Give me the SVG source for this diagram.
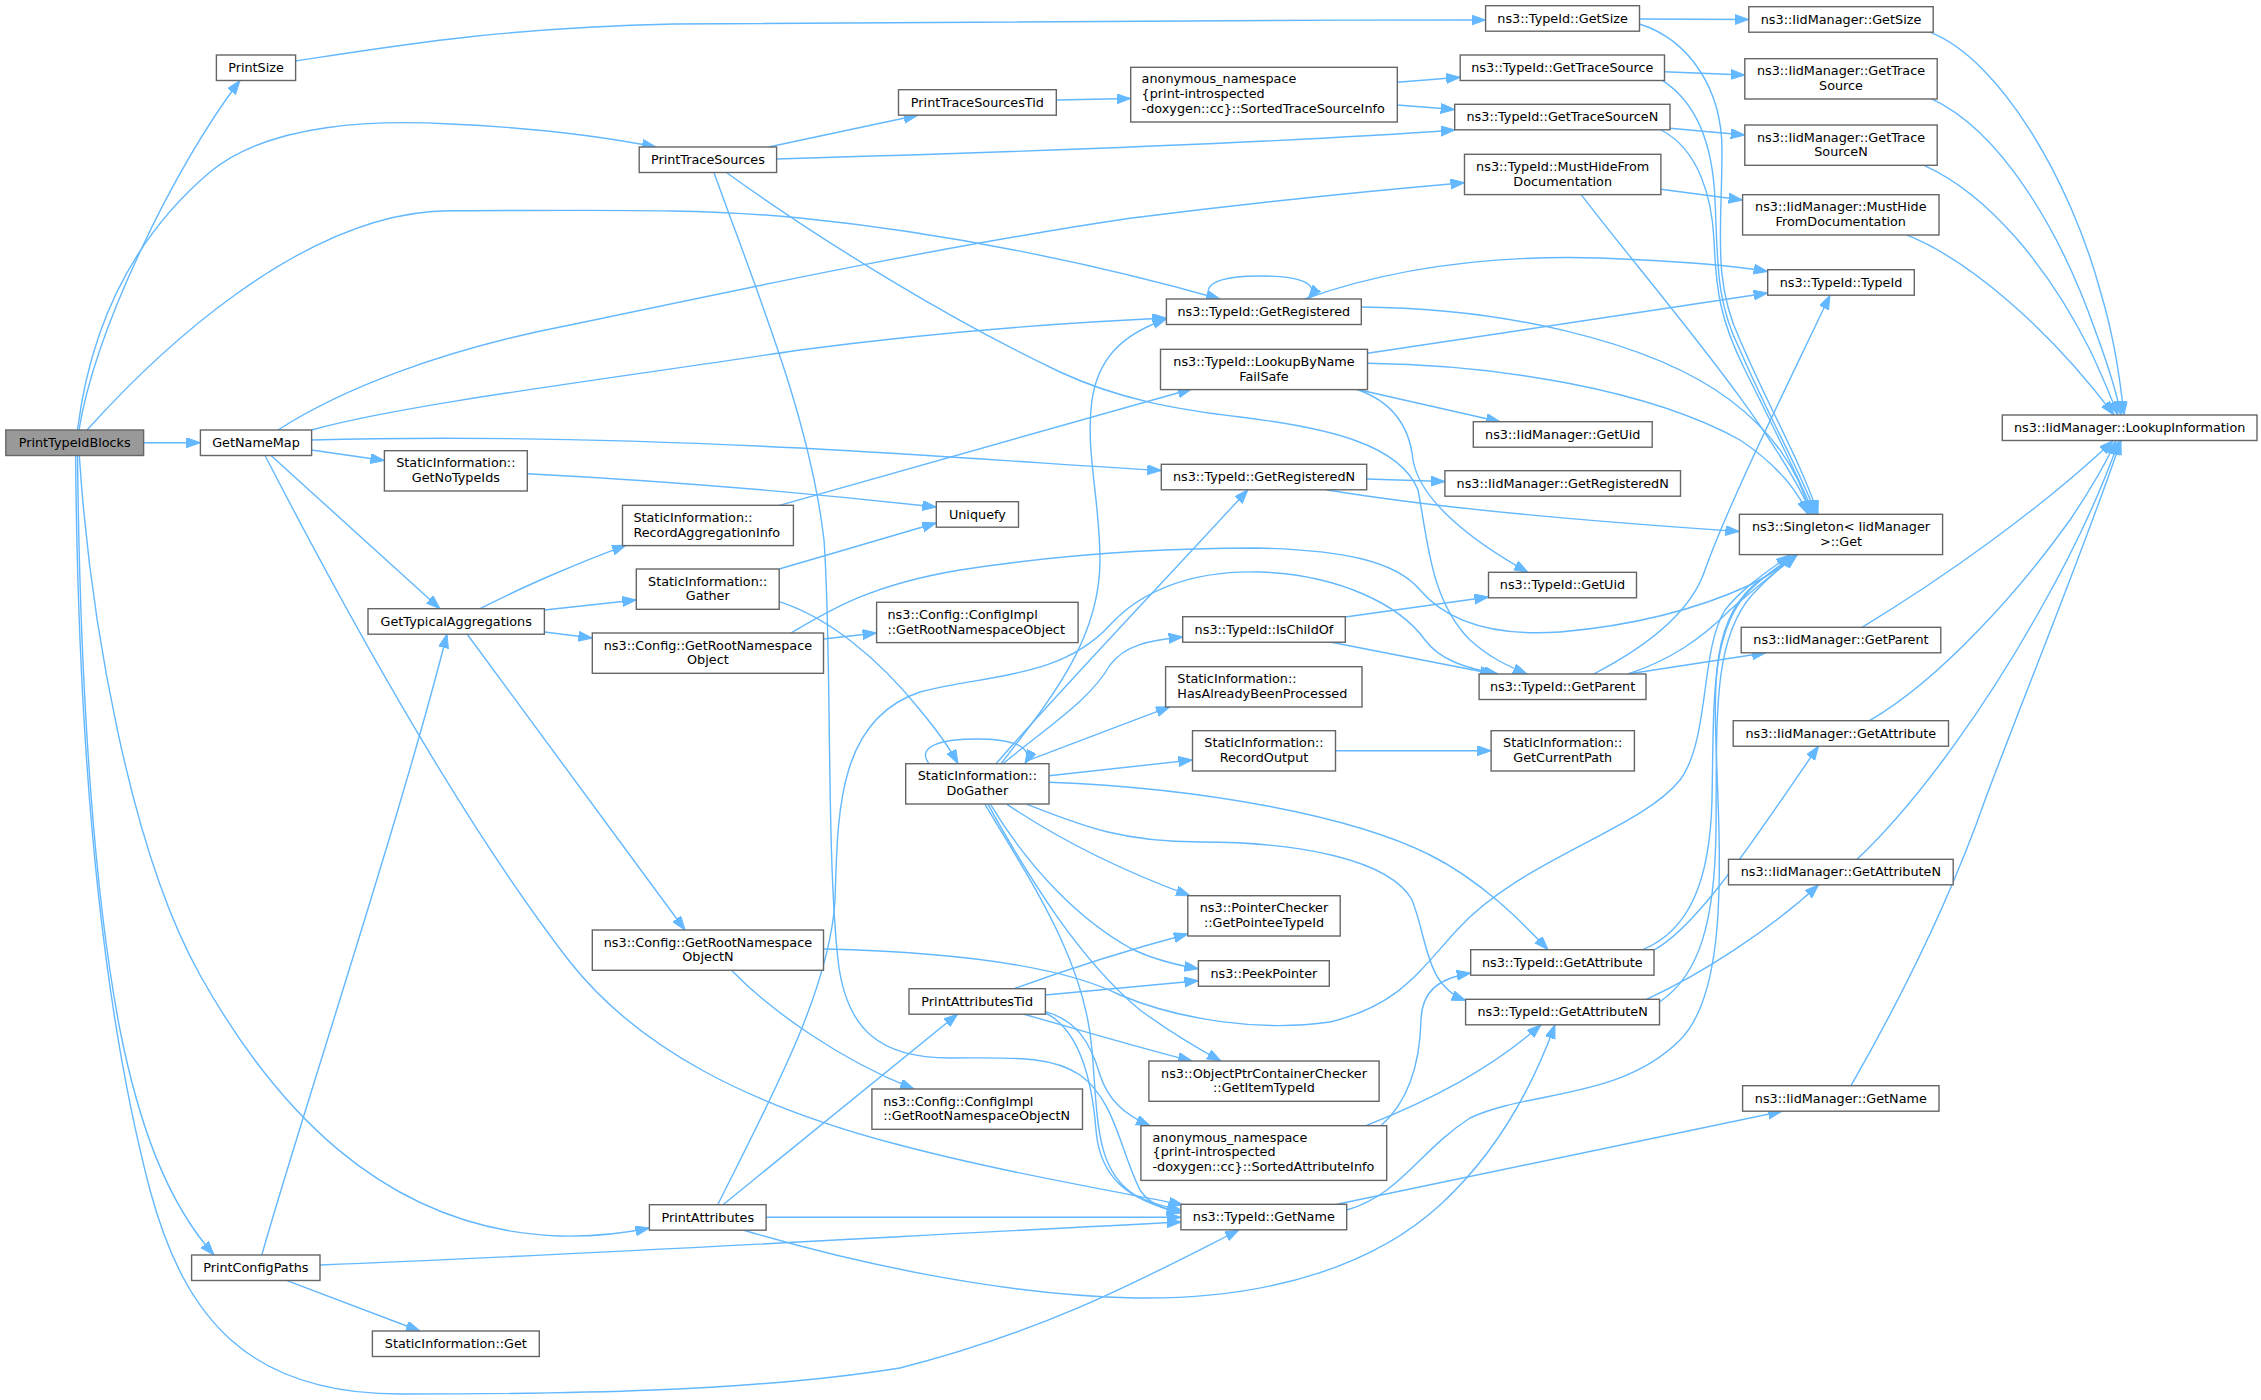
<svg xmlns="http://www.w3.org/2000/svg" width="2261" height="1400" viewBox="0 0 2261 1400">
<style>
.n rect{fill:#ffffff;stroke:#666666;stroke-width:1.4}
.n.root rect{fill:#999999}
text{font-family:"DejaVu Sans","Liberation Sans",sans-serif;font-size:12.8px;fill:#000000}
.c{text-anchor:middle}
.l{text-anchor:start}
#edges path{fill:none;stroke:#63b8ff;stroke-width:1.4;marker-end:url(#ah)}
</style>
<defs>
<marker id="ah" markerUnits="userSpaceOnUse" markerWidth="15" markerHeight="11" refX="14" refY="5" orient="auto">
<path d="M0,0 L14,5 L0,10 z" fill="#63b8ff" stroke="#63b8ff" stroke-width="1"/>
</marker>
</defs>
<rect x="0" y="0" width="2261" height="1400" fill="#ffffff"/>
<g id="edges">
<path d="M79,430 C95,330 175,165 240,80.5"/>
<path d="M77.5,430 C90,330 130,240 210,172 C270,122 380,120 450,124 C540,128 610,138 656,147"/>
<path d="M87,430 C150,360 300,211 450,210.7 C600,210.5 700,208 800,218 C950,233 1100,265 1220,299"/>
<path d="M143.6,442.7 L200.4,442.7"/>
<path d="M77.5,455.5 C80,700 95,900 120,1030 C138,1120 165,1200 214,1255"/>
<path d="M75.6,455.5 C78,750 100,1000 150,1190 C185,1320 250,1394 400,1394 C560,1394 750,1392 900,1368 C1050,1330 1150,1275 1239,1230"/>
<path d="M79.3,455.5 C90,620 130,850 200,975 C270,1100 380,1230 560,1236 C600,1237 630,1232 649.4,1228"/>
<path d="M311.6,450 L384.4,460.5"/>
<path d="M271,455.5 L440,608.7"/>
<path d="M265,455.5 C350,620 460,820 570,962 C640,1050 750,1105 892,1143 C1000,1172 1120,1192 1183,1205"/>
<path d="M278,430 C340,390 440,350 570,325 C760,285 950,245 1130,218.3 C1250,203 1380,190 1464.5,182.7"/>
<path d="M311.6,430 C400,405 600,380 800,350 C950,330 1080,322 1166.4,318"/>
<path d="M311.6,440 C450,436 600,438 800,448 C950,456 1080,466 1161.3,470.5"/>
<path d="M295.6,61 C400,45 500,28 674,24 C900,21 1200,20 1485.6,20"/>
<path d="M768.6,147 L917.7,115.3"/>
<path d="M776.6,159 C950,154 1250,145 1455,130"/>
<path d="M726.8,172.7 C820,240 950,320 1060,372 C1120,400 1180,410 1240,417 C1330,428 1400,445 1418,490 C1428,540 1430,600 1470,640 C1490,658 1508,666 1527,674"/>
<path d="M714,172.7 C760,300 810,420 824,540 C832,650 826,850 838,960 C846,1030 880,1058 950,1058 C1010,1058 1050,1055 1080,1075 C1115,1100 1120,1150 1140,1190 C1150,1205 1165,1210 1181,1212"/>
<path d="M1056.3,100 L1130.7,98.5"/>
<path d="M1397.3,82.3 L1460.2,77.3"/>
<path d="M1397.3,105 L1454.7,109.5"/>
<path d="M1639.5,19 L1748.8,19.5"/>
<path d="M1664.5,71.7 L1744.8,75"/>
<path d="M1670,128.3 L1744.8,135"/>
<path d="M1660.9,189.3 L1742.6,200"/>
<path d="M1639.5,24 C1690,40 1722,90 1722,150 C1722,230 1712,280 1740,340 C1770,410 1800,460 1818,514.3"/>
<path d="M1662.7,80.7 C1700,105 1713,150 1715,200 C1718,260 1715,300 1740,350 C1770,420 1800,470 1816,514.3"/>
<path d="M1661,130 C1700,150 1712,200 1714,240 C1716,290 1720,320 1745,370 C1775,430 1800,480 1814,514.3"/>
<path d="M1581,194.3 C1650,285 1770,420 1812,514.3"/>
<path d="M1361.3,307 C1500,308 1650,340 1730,400 C1770,430 1800,470 1810,514.3"/>
<path d="M1367.5,363.3 C1500,365 1650,390 1740,440 C1770,460 1795,485 1808,514.3"/>
<path d="M1326,489.7 C1450,510 1600,522 1739.4,531.5"/>
<path d="M1366.7,479 L1444.9,481.5"/>
<path d="M1367.5,353.3 L1767.7,293"/>
<path d="M1304.5,299 C1400,265 1500,255 1600,258 C1680,261 1730,265 1767.7,271.5"/>
<path d="M1210,299 C1200,280 1230,276 1262,276 C1295,276 1322,282 1308,299"/>
<path d="M1593.6,674 C1640,650 1690,615 1705,570 C1730,500 1790,380 1830,295.3"/>
<path d="M1628,674 C1670,660 1700,640 1730,610 C1755,588 1778,570 1797,554.7"/>
<path d="M1628,674 L1766,652.7"/>
<path d="M1345.3,617 L1488.5,597"/>
<path d="M1330,642 L1494,674"/>
<path d="M1335.5,750.7 L1491.1,750.7"/>
<path d="M929,763.7 C915,745 945,739 977,739 C1010,739 1035,746 1025,763.7"/>
<path d="M779.2,601.7 C830,618 880,660 920,710 C935,728 948,745 958,763.7"/>
<path d="M779.2,569 L936.3,523"/>
<path d="M527.3,473.7 C650,480 800,492 936.3,507"/>
<path d="M779.5,505.3 L1191.8,389"/>
<path d="M480,608.7 C520,588 580,562 626,545.3"/>
<path d="M544.4,610 L636.3,600"/>
<path d="M544.4,632 L592.3,638"/>
<path d="M467,634 L685,930"/>
<path d="M823.5,639 L876.6,633"/>
<path d="M790.5,633.3 C830,610 870,585 960,570 C1050,556 1150,548 1257,548 C1340,550 1395,560 1420,590 C1450,625 1500,636 1560,632 C1640,625 1700,608 1750,585 C1770,575 1785,565 1797,555"/>
<path d="M732,970.7 C770,1010 840,1060 914,1089"/>
<path d="M823.5,949 C950,952 1060,965 1120,995 C1180,1020 1260,1032 1330,1022 C1400,1005 1420,970 1457,930 C1520,860 1640,830 1680,780 C1710,740 1700,650 1725,610 C1745,585 1770,570 1790,555"/>
<path d="M1001,763.7 C1050,700 1100,640 1100,560 C1100,500 1085,450 1092,400 C1098,360 1120,335 1166.4,319"/>
<path d="M996,763.7 C1060,690 1170,575 1248,489.7"/>
<path d="M1003,763.7 C1050,725 1090,700 1110,665 C1125,645 1150,640 1182.7,637"/>
<path d="M1025,761.7 L1170,706.7"/>
<path d="M1049,775.7 L1192.5,760"/>
<path d="M1049,782.3 C1200,788 1350,815 1430,855 C1480,880 1520,920 1548,949.7"/>
<path d="M1026.8,804.3 C1080,825 1120,842 1200,842 C1300,842 1390,860 1412,900 C1428,940 1425,985 1465.6,1000.5"/>
<path d="M1007,804.3 C1060,840 1120,870 1190,895.7"/>
<path d="M990.5,804.3 C1030,870 1080,920 1130,948 C1150,958 1170,964 1198.4,968.7"/>
<path d="M988,804.3 C1030,880 1080,960 1140,1010 C1170,1032 1195,1047 1221,1061"/>
<path d="M985,804.3 C1030,880 1085,960 1092,1050 C1098,1120 1095,1170 1135,1195 C1150,1203 1165,1207 1181,1210"/>
<path d="M723,1204.7 L957.7,1014"/>
<path d="M766.1,1217.3 L1180.9,1217.3"/>
<path d="M743,1230 C850,1262 1000,1295 1135,1298 C1280,1300 1380,1260 1440,1205 C1500,1150 1535,1080 1555,1024.7"/>
<path d="M717.7,1204.7 C770,1100 830,990 835,900 C838,820 835,720 920,692 C980,675 1060,680 1110,625 C1140,592 1190,570 1260,572 C1340,575 1400,605 1425,640 C1440,660 1465,668 1498,674"/>
<path d="M1014,988.7 C1060,972 1120,952 1187.8,934"/>
<path d="M1045.4,995 L1198.4,980.7"/>
<path d="M1023,1014 C1080,1030 1140,1048 1192,1061"/>
<path d="M1045.4,1011.7 C1075,1020 1090,1040 1100,1075 C1108,1100 1125,1115 1150,1125.7"/>
<path d="M1045.4,1013 C1080,1030 1092,1080 1096,1130 C1100,1180 1130,1200 1181,1213"/>
<path d="M1381,1125.7 C1410,1100 1420,1060 1421,1020 C1422,990 1440,978 1470.7,973"/>
<path d="M1366,1125.7 C1430,1100 1490,1070 1541,1024.7"/>
<path d="M1346.7,1210 C1400,1195 1420,1150 1470,1118 C1530,1090 1620,1100 1680,1040 C1720,1000 1722,900 1718,800 C1715,700 1705,620 1760,580 C1775,570 1785,563 1797,555"/>
<path d="M1337,1204.3 L1782,1111.3"/>
<path d="M1642.7,949.7 C1690,930 1710,880 1712,800 C1714,700 1710,630 1750,590 C1765,575 1780,565 1795,555"/>
<path d="M1654,950 C1700,925 1760,830 1818.6,746"/>
<path d="M1659.5,1002 C1700,975 1715,920 1716,830 C1717,720 1712,640 1752,595 C1768,578 1782,566 1796,555"/>
<path d="M1646.4,999.3 C1700,975 1770,930 1818.6,884.7"/>
<path d="M1931,32.7 C2000,60 2070,180 2100,290 C2115,340 2120,380 2124,415"/>
<path d="M1931,98.7 C2000,130 2060,230 2095,330 C2108,365 2116,390 2121,415"/>
<path d="M1924,165.3 C1990,195 2050,270 2090,350 C2102,375 2110,395 2118,415"/>
<path d="M1906,234.7 C1970,260 2050,330 2114,415"/>
<path d="M1862,627.3 C1940,580 2040,510 2113,440.7"/>
<path d="M1869.5,720.7 C1940,680 2020,590 2070,520 C2090,490 2105,465 2116,440.7"/>
<path d="M1857,859.3 C1920,800 1990,700 2040,610 C2080,540 2105,480 2119,440.7"/>
<path d="M1851,1085.7 C1900,1000 1950,900 1985,800 C2030,680 2080,560 2121,440.7"/>
<path d="M1355.5,389 L1500,421.7"/>
<path d="M1355.5,389 C1395,402 1410,430 1413,460 C1420,500 1470,540 1528,572.3"/>
<path d="M261.8,1255 C300,1120 400,820 447,634"/>
<path d="M320,1265 C600,1254 900,1236 1181,1222"/>
<path d="M287,1280.7 L420,1331"/>
</g>
<g id="n-PrintTypeIdBlocks" class="n root"><rect x="5.8" y="430" width="137.8" height="25.5"/><text class="c" x="74.7" y="447">PrintTypeIdBlocks</text></g>
<g id="n-PrintSize" class="n"><rect x="216.4" y="55" width="79.2" height="25.5"/><text class="c" x="256" y="72">PrintSize</text></g>
<g id="n-PrintTraceSources" class="n"><rect x="639.2" y="147" width="137.4" height="25.5"/><text class="c" x="707.9" y="164">PrintTraceSources</text></g>
<g id="n-GetNameMap" class="n"><rect x="200.4" y="430" width="111.2" height="25.5"/><text class="c" x="256" y="447">GetNameMap</text></g>
<g id="n-GetNoTypeIds" class="n"><rect x="384.4" y="450.7" width="142.9" height="40.3"/><text class="c" x="455.85" y="467.2">StaticInformation::</text><text class="c" x="455.85" y="481.9">GetNoTypeIds</text></g>
<g id="n-GetTypicalAggregations" class="n"><rect x="368" y="608.7" width="176.4" height="25.5"/><text class="c" x="456.2" y="625.7">GetTypicalAggregations</text></g>
<g id="n-PrintConfigPaths" class="n"><rect x="191.6" y="1255" width="128.4" height="25.5"/><text class="c" x="255.8" y="1272">PrintConfigPaths</text></g>
<g id="n-StaticInformationGet" class="n"><rect x="372.4" y="1331" width="166.9" height="25.5"/><text class="c" x="455.85" y="1348">StaticInformation::Get</text></g>
<g id="n-PrintAttributes" class="n"><rect x="649.4" y="1204.7" width="116.7" height="25.5"/><text class="c" x="707.75" y="1221.7">PrintAttributes</text></g>
<g id="n-PrintTraceSourcesTid" class="n"><rect x="898.5" y="89.7" width="157.8" height="25.5"/><text class="c" x="977.4" y="106.7">PrintTraceSourcesTid</text></g>
<g id="n-SortedTraceSourceInfo" class="n"><rect x="1130.7" y="67.3" width="266.6" height="54.7"/><text class="l" x="1141.6" y="83.3">anonymous_namespace</text><text class="l" x="1141.6" y="98">{print-introspected</text><text class="l" x="1141.6" y="112.7">-doxygen::cc}::SortedTraceSourceInfo</text></g>
<g id="n-RecordAggregationInfo" class="n"><rect x="622.5" y="505.3" width="170.9" height="40.3"/><text class="l" x="633.4" y="521.8">StaticInformation::</text><text class="l" x="633.4" y="536.5">RecordAggregationInfo</text></g>
<g id="n-Gather" class="n"><rect x="636.3" y="569" width="142.9" height="40.3"/><text class="c" x="707.75" y="585.5">StaticInformation::</text><text class="c" x="707.75" y="600.2">Gather</text></g>
<g id="n-GetRootNamespaceObject" class="n"><rect x="592.3" y="633" width="231.2" height="40.3"/><text class="c" x="707.9" y="649.5">ns3::Config::GetRootNamespace</text><text class="c" x="707.9" y="664.2">Object</text></g>
<g id="n-GetRootNamespaceObjectN" class="n"><rect x="592.3" y="930" width="231.2" height="40.3"/><text class="c" x="707.9" y="946.5">ns3::Config::GetRootNamespace</text><text class="c" x="707.9" y="961.2">ObjectN</text></g>
<g id="n-Uniquefy" class="n"><rect x="936.3" y="501.7" width="82.2" height="25.5"/><text class="c" x="977.4" y="518.7">Uniquefy</text></g>
<g id="n-ConfigImplGetRootNamespaceObject" class="n"><rect x="876.6" y="602.3" width="201.5" height="40.3"/><text class="l" x="887.5" y="618.8">ns3::Config::ConfigImpl</text><text class="l" x="887.5" y="633.5">::GetRootNamespaceObject</text></g>
<g id="n-DoGather" class="n"><rect x="905.7" y="763.7" width="143.3" height="40.3"/><text class="c" x="977.35" y="780.2">StaticInformation::</text><text class="c" x="977.35" y="794.9">DoGather</text></g>
<g id="n-PrintAttributesTid" class="n"><rect x="909" y="988.7" width="136.4" height="25.5"/><text class="c" x="977.2" y="1005.7">PrintAttributesTid</text></g>
<g id="n-ConfigImplGetRootNamespaceObjectN" class="n"><rect x="871.9" y="1089" width="210.6" height="40.3"/><text class="l" x="883.2" y="1105.5">ns3::Config::ConfigImpl</text><text class="l" x="883.2" y="1120.2">::GetRootNamespaceObjectN</text></g>
<g id="n-TypeIdGetSize" class="n"><rect x="1485.6" y="5.7" width="153.9" height="25.5"/><text class="c" x="1562.55" y="22.7">ns3::TypeId::GetSize</text></g>
<g id="n-TypeIdGetTraceSource" class="n"><rect x="1460.2" y="55" width="204.3" height="25.5"/><text class="c" x="1562.35" y="72">ns3::TypeId::GetTraceSource</text></g>
<g id="n-TypeIdGetTraceSourceN" class="n"><rect x="1454.7" y="104.3" width="215.3" height="25.5"/><text class="c" x="1562.35" y="121.3">ns3::TypeId::GetTraceSourceN</text></g>
<g id="n-TypeIdMustHideFromDocumentation" class="n"><rect x="1464.5" y="154.3" width="196.4" height="40.3"/><text class="c" x="1562.7" y="170.8">ns3::TypeId::MustHideFrom</text><text class="c" x="1562.7" y="185.5">Documentation</text></g>
<g id="n-TypeIdGetRegistered" class="n"><rect x="1166.4" y="299" width="194.9" height="25.5"/><text class="c" x="1263.85" y="316">ns3::TypeId::GetRegistered</text></g>
<g id="n-TypeIdLookupByNameFailSafe" class="n"><rect x="1160.5" y="349.3" width="207" height="40.3"/><text class="c" x="1264" y="365.8">ns3::TypeId::LookupByName</text><text class="c" x="1264" y="380.5">FailSafe</text></g>
<g id="n-IidManagerGetUid" class="n"><rect x="1473.3" y="421.7" width="178.9" height="25.5"/><text class="c" x="1562.75" y="438.7">ns3::IidManager::GetUid</text></g>
<g id="n-TypeIdGetRegisteredN" class="n"><rect x="1161.3" y="464.3" width="205.4" height="25.5"/><text class="c" x="1264" y="481.3">ns3::TypeId::GetRegisteredN</text></g>
<g id="n-IidManagerGetRegisteredN" class="n"><rect x="1444.9" y="470.7" width="235.6" height="25.5"/><text class="c" x="1562.7" y="487.7">ns3::IidManager::GetRegisteredN</text></g>
<g id="n-TypeIdGetUid" class="n"><rect x="1488.5" y="572.3" width="148" height="25.5"/><text class="c" x="1562.5" y="589.3">ns3::TypeId::GetUid</text></g>
<g id="n-TypeIdIsChildOf" class="n"><rect x="1182.7" y="616.7" width="162.6" height="25.5"/><text class="c" x="1264" y="633.7">ns3::TypeId::IsChildOf</text></g>
<g id="n-TypeIdGetParent" class="n"><rect x="1479.1" y="674" width="166.9" height="25.5"/><text class="c" x="1562.55" y="691">ns3::TypeId::GetParent</text></g>
<g id="n-HasAlreadyBeenProcessed" class="n"><rect x="1165.6" y="666.7" width="196.4" height="40.3"/><text class="l" x="1177.3" y="683.2">StaticInformation::</text><text class="l" x="1177.3" y="697.9">HasAlreadyBeenProcessed</text></g>
<g id="n-RecordOutput" class="n"><rect x="1192.5" y="730.7" width="143" height="40.3"/><text class="c" x="1264" y="747.2">StaticInformation::</text><text class="c" x="1264" y="761.9">RecordOutput</text></g>
<g id="n-GetCurrentPath" class="n"><rect x="1491.1" y="730.7" width="143.3" height="40.3"/><text class="c" x="1562.75" y="747.2">StaticInformation::</text><text class="c" x="1562.75" y="761.9">GetCurrentPath</text></g>
<g id="n-PointerCheckerGetPointeeTypeId" class="n"><rect x="1187.8" y="895.7" width="152.4" height="40.3"/><text class="c" x="1264" y="912.2">ns3::PointerChecker</text><text class="c" x="1264" y="926.9">::GetPointeeTypeId</text></g>
<g id="n-PeekPointer" class="n"><rect x="1198.4" y="960.7" width="130.9" height="25.5"/><text class="c" x="1263.85" y="977.7">ns3::PeekPointer</text></g>
<g id="n-ObjectPtrContainerCheckerGetItemTypeId" class="n"><rect x="1148.9" y="1061" width="230.2" height="40.3"/><text class="c" x="1264" y="1077.5">ns3::ObjectPtrContainerChecker</text><text class="c" x="1264" y="1092.2">::GetItemTypeId</text></g>
<g id="n-SortedAttributeInfo" class="n"><rect x="1140.9" y="1125.7" width="245.8" height="54.7"/><text class="l" x="1152.5" y="1141.7">anonymous_namespace</text><text class="l" x="1152.5" y="1156.4">{print-introspected</text><text class="l" x="1152.5" y="1171.1">-doxygen::cc}::SortedAttributeInfo</text></g>
<g id="n-TypeIdGetName" class="n"><rect x="1180.9" y="1204.3" width="165.8" height="25.5"/><text class="c" x="1263.8" y="1221.3">ns3::TypeId::GetName</text></g>
<g id="n-TypeIdGetAttribute" class="n"><rect x="1470.7" y="949.7" width="183.3" height="25.5"/><text class="c" x="1562.35" y="966.7">ns3::TypeId::GetAttribute</text></g>
<g id="n-TypeIdGetAttributeN" class="n"><rect x="1465.6" y="999.3" width="193.9" height="25.5"/><text class="c" x="1562.55" y="1016.3">ns3::TypeId::GetAttributeN</text></g>
<g id="n-IidManagerGetSize" class="n"><rect x="1748.8" y="6.7" width="184.4" height="25.5"/><text class="c" x="1841" y="23.7">ns3::IidManager::GetSize</text></g>
<g id="n-IidManagerGetTraceSource" class="n"><rect x="1744.8" y="58.7" width="192.4" height="40.3"/><text class="c" x="1841" y="75.2">ns3::IidManager::GetTrace</text><text class="c" x="1841" y="89.9">Source</text></g>
<g id="n-IidManagerGetTraceSourceN" class="n"><rect x="1744.8" y="125" width="192.4" height="40.3"/><text class="c" x="1841" y="141.5">ns3::IidManager::GetTrace</text><text class="c" x="1841" y="156.2">SourceN</text></g>
<g id="n-IidManagerMustHideFromDocumentation" class="n"><rect x="1742.6" y="194.7" width="196.4" height="40.3"/><text class="c" x="1840.8" y="211.2">ns3::IidManager::MustHide</text><text class="c" x="1840.8" y="225.9">FromDocumentation</text></g>
<g id="n-TypeIdTypeId" class="n"><rect x="1767.7" y="269.7" width="146.6" height="25.5"/><text class="c" x="1841" y="286.7">ns3::TypeId::TypeId</text></g>
<g id="n-IidManagerLookupInformation" class="n"><rect x="2002.3" y="415" width="254.7" height="25.5"/><text class="c" x="2129.65" y="432">ns3::IidManager::LookupInformation</text></g>
<g id="n-SingletonGet" class="n"><rect x="1739.4" y="514.3" width="203.2" height="40.3"/><text class="c" x="1841" y="530.8">ns3::Singleton&lt; IidManager</text><text class="c" x="1841" y="545.5">&gt;::Get</text></g>
<g id="n-IidManagerGetParent" class="n"><rect x="1741.2" y="627.3" width="199.6" height="25.5"/><text class="c" x="1841" y="644.3">ns3::IidManager::GetParent</text></g>
<g id="n-IidManagerGetAttribute" class="n"><rect x="1733.2" y="720.7" width="215.3" height="25.5"/><text class="c" x="1840.85" y="737.7">ns3::IidManager::GetAttribute</text></g>
<g id="n-IidManagerGetAttributeN" class="n"><rect x="1728.5" y="859.3" width="224.7" height="25.5"/><text class="c" x="1840.85" y="876.3">ns3::IidManager::GetAttributeN</text></g>
<g id="n-IidManagerGetName" class="n"><rect x="1742.6" y="1085.7" width="196.4" height="25.5"/><text class="c" x="1840.8" y="1102.7">ns3::IidManager::GetName</text></g>
</svg>
